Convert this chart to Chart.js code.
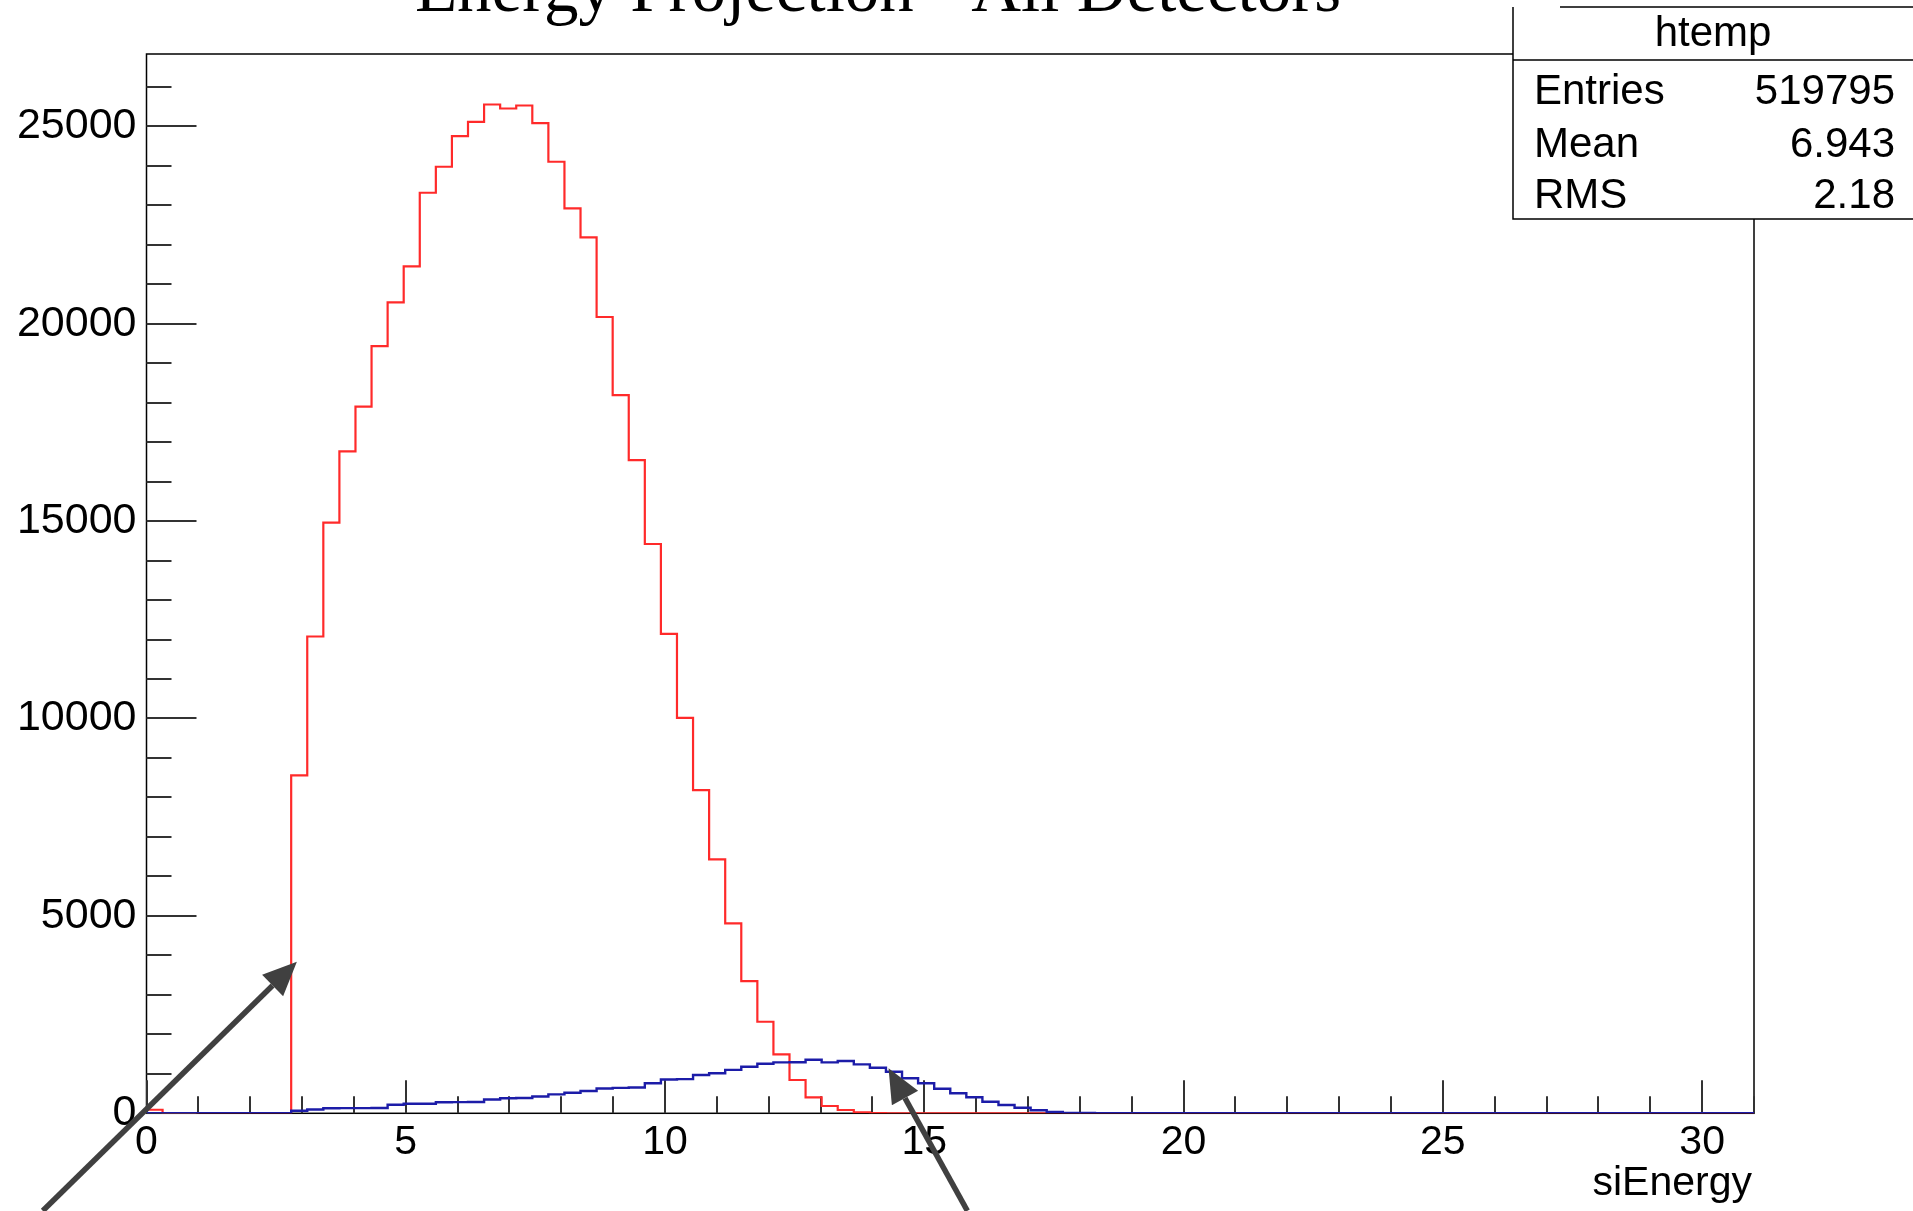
<!DOCTYPE html>
<html>
<head>
<meta charset="utf-8">
<script src="https://cdn.jsdelivr.net/npm/chart.js@4"></script>
<style>
  body { margin: 0; background: #fff; }
  canvas { display: block; }
</style>
</head>
<body>
<canvas id="histo" width="1913" height="1211"></canvas>
<script>
// --- HISTOGRAM BINNING (htemp: 100 bins over 0..31) ---
const xLow = 0;
const xHigh = 31;
const nBins = 100;

// --- BIN CONTENTS ---
// red: bins 0..45, everything after is empty
const redCounts = [
    90, 0, 0, 0, 0, 0, 0, 0, 0,
    8557, 12076, 14962, 16767, 17898, 19433, 20539, 21450, 23316, 23974,
    24749, 25113, 25551, 25450, 25526, 25078, 24101, 22919, 22185, 20169,
    18192, 16546, 14419, 12142, 10015, 8185, 6430, 4810, 3349, 2319,
    1494, 843, 405, 185, 84, 25, 8
];
// blue: bins 0..58
const blueCounts = [
    0, 0, 0, 0, 0, 0, 0, 0, 0,
    63, 96, 128, 131, 130, 133, 215, 240, 243, 281,
    284, 288, 350, 380, 388, 425, 480, 520, 565, 630,
    645, 652, 760, 855, 866, 970, 1013, 1100, 1180, 1256,
    1290, 1293, 1357, 1291, 1324, 1240, 1154, 1053, 886, 760,
    623, 506, 405, 294, 210, 142, 76, 33, 10, 6
];

// --- AXES ---
const yMax = 26830;
const xTickValues = [0, 5, 10, 15, 20, 25, 30];
const yTickValues = [0, 5000, 10000, 15000, 20000, 25000];
const xMinorStep = 1;
const yMinorStep = 1000;
const xTitle = "siEnergy";
const chartTitle = "Energy Projection - All Detectors";

// --- STATS BOX ---
const statsName = "htemp";
const statsLabels = ["Entries", "Mean", "RMS"];
const statsValues = ["519795", "6.943", "2.18"];

// --- ARROWS (data coordinates, tail -> tip) ---
const arrowTails = [[-2.0, -2470], [15.83, -2470]];
const arrowTips = [[2.9, 3840], [14.31, 1140]];

// build step points: one point at each bin's low edge, plus the upper edge
function histPoints(counts) {
    const w = (xHigh - xLow) / nBins;
    const pts = [];
    for (let i = 0; i < nBins; i++) {
        pts.push({ x: xLow + i * w, y: counts[i] || 0 });
    }
    pts.push({ x: xHigh, y: counts[nBins - 1] || 0 });
    return pts;
}

const SANS = '"Liberation Sans", Arial, sans-serif';

// --- FRAME, TICKS, STATS, TEXT, ARROWS ---
const rootStyle = {
    id: 'rootStyle',
    beforeDraw(chart) {
        const ctx = chart.ctx;
        ctx.save();
        ctx.fillStyle = '#fff';
        ctx.fillRect(0, 0, chart.width, chart.height);
        ctx.restore();
    },
    beforeDatasetsDraw(chart) {
        const ctx = chart.ctx;
        const a = chart.chartArea;
        const xs = chart.scales.x, ys = chart.scales.y;
        ctx.save();
        ctx.strokeStyle = '#000';
        ctx.lineWidth = 1.5;
        ctx.strokeRect(a.left, a.top, a.right - a.left, a.bottom - a.top);

        ctx.strokeStyle = '#333';
        ctx.lineWidth = 2;
        ctx.beginPath();
        for (let v = 0; v <= yMax; v += yMinorStep) {
            const py = Math.round(ys.getPixelForValue(v));
            const len = yTickValues.includes(v) ? 50 : 25;
            ctx.moveTo(a.left, py);
            ctx.lineTo(a.left + len, py);
        }
        for (let v = xLow; v <= xHigh; v += xMinorStep) {
            const px = Math.round(xs.getPixelForValue(v));
            const len = xTickValues.includes(v) ? 33 : 17;
            ctx.moveTo(px, a.bottom);
            ctx.lineTo(px, a.bottom - len);
        }
        ctx.stroke();
        ctx.restore();
    },
    afterDraw(chart) {
        const ctx = chart.ctx;
        const a = chart.chartArea;
        const xs = chart.scales.x, ys = chart.scales.y;
        ctx.save();

        // stats box
        const bx = 1513, by = 7, bw = 420, bh = 212;
        ctx.fillStyle = '#fff';
        ctx.fillRect(bx, by, bw, bh);
        ctx.strokeStyle = '#000';
        ctx.lineWidth = 1.5;
        ctx.beginPath();
        ctx.moveTo(1560, by); ctx.lineTo(1913, by);
        ctx.moveTo(bx, by); ctx.lineTo(bx, by + bh); ctx.lineTo(1913, by + bh);
        ctx.moveTo(bx, 60); ctx.lineTo(1913, 60);
        ctx.stroke();

        ctx.fillStyle = '#000';
        ctx.font = '42px ' + SANS;
        ctx.textBaseline = 'alphabetic';
        ctx.textAlign = 'center';
        ctx.fillText(statsName, 1713, 46);
        const rows = [104, 157, 208];
        statsLabels.forEach((lab, i) => {
            ctx.textAlign = 'left';
            ctx.fillText(lab, 1534, rows[i]);
            ctx.textAlign = 'right';
            ctx.fillText(statsValues[i], 1895, rows[i]);
        });

        // title (cut by the top edge like the original)
        ctx.font = '69px "Liberation Serif", "Times New Roman", serif';
        ctx.textAlign = 'center';
        ctx.fillStyle = '#000';
        ctx.fillText(chartTitle, 878, 11);

        // x axis title
        ctx.font = '41px ' + SANS;
        ctx.textAlign = 'right';
        ctx.fillText(xTitle, a.right - 2, 1195);

        // arrows
        ctx.strokeStyle = '#404040';
        ctx.fillStyle = '#404040';
        ctx.lineWidth = 5.5;
        arrowTails.forEach((t, i) => {
            const x0 = xs.getPixelForValue(t[0]), y0 = ys.getPixelForValue(t[1]);
            const x1 = xs.getPixelForValue(arrowTips[i][0]), y1 = ys.getPixelForValue(arrowTips[i][1]);
            const ang = Math.atan2(y1 - y0, x1 - x0);
            const hl = 34, hw = 15;
            const bxh = x1 - hl * Math.cos(ang), byh = y1 - hl * Math.sin(ang);
            ctx.beginPath();
            ctx.moveTo(x0, y0);
            ctx.lineTo(bxh, byh);
            ctx.stroke();
            ctx.beginPath();
            ctx.moveTo(x1, y1);
            ctx.lineTo(bxh + hw * Math.sin(ang), byh - hw * Math.cos(ang));
            ctx.lineTo(bxh - hw * Math.sin(ang), byh + hw * Math.cos(ang));
            ctx.closePath();
            ctx.fill();
        });
        ctx.restore();
    }
};

const ctx = document.getElementById('histo').getContext('2d');
const chart = new Chart(ctx, {
    type: 'line',
    data: {
        datasets: [
            {
                label: 'blue',
                data: histPoints(blueCounts),
                borderColor: '#1c1ca8',
                borderWidth: 2.4,
                stepped: 'before',
                pointRadius: 0,
                fill: false,
                tension: 0
            },
            {
                label: 'red',
                data: histPoints(redCounts),
                borderColor: '#ff2a2a',
                borderWidth: 2.2,
                stepped: 'before',
                pointRadius: 0,
                fill: false,
                tension: 0
            }
        ]
    },
    options: {
        responsive: false,
        animation: false,
        devicePixelRatio: 1,
        layout: { padding: { left: 0, top: 54, right: 159, bottom: 0 } },
        plugins: { legend: { display: false }, tooltip: { enabled: false }, title: { display: false } },
        scales: {
            x: {
                type: 'linear',
                min: xLow,
                max: xHigh,
                grid: { display: false, drawTicks: false },
                border: { display: false },
                afterBuildTicks(scale) { scale.ticks = xTickValues.map(v => ({ value: v })); },
                ticks: {
                    color: '#000',
                    padding: 5,
                    maxRotation: 0,
                    autoSkip: false,
                    callback: v => String(v),
                    font: { family: SANS, size: 41 }
                },
                afterFit(scale) { scale.height = 97.7; }
            },
            y: {
                type: 'linear',
                min: 0,
                max: yMax,
                grid: { display: false, drawTicks: false },
                border: { display: false },
                afterBuildTicks(scale) { scale.ticks = yTickValues.map(v => ({ value: v })); },
                ticks: {
                    color: '#000',
                    padding: 10,
                    autoSkip: false,
                    callback: v => String(v),
                    font: { family: SANS, size: 43 }
                },
                afterFit(scale) { scale.width = 146.5; }
            }
        }
    },
    plugins: [rootStyle]
});
</script>
</body>
</html>
